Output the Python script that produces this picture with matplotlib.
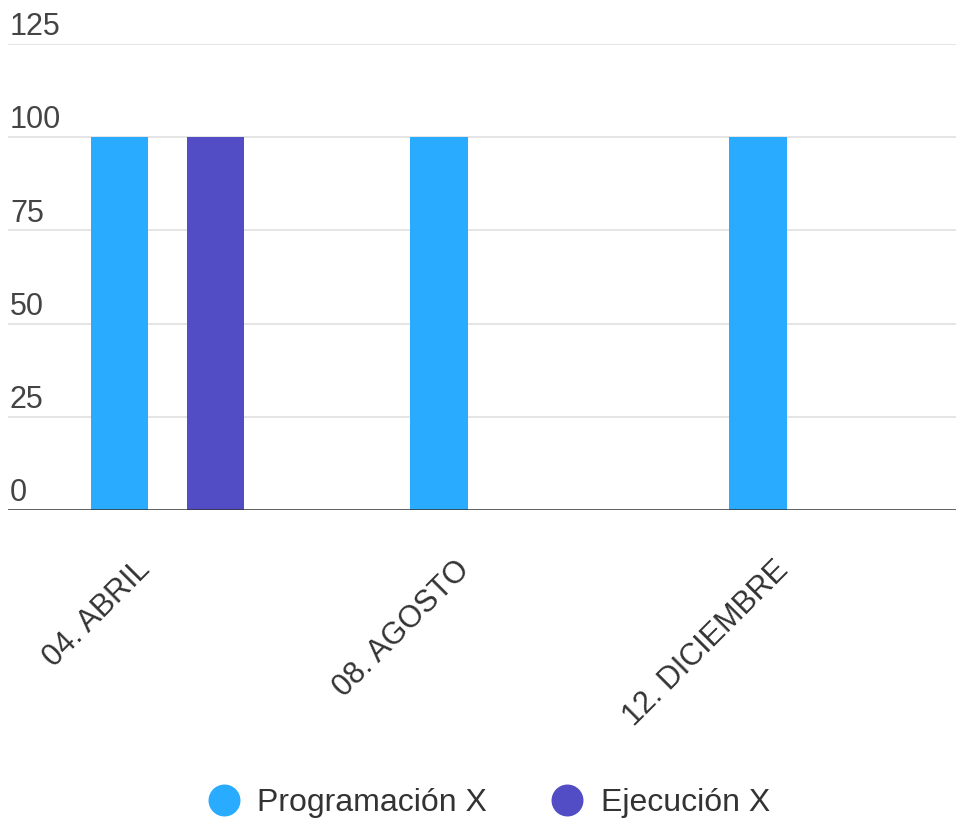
import matplotlib.pyplot as plt
from matplotlib.lines import Line2D
import matplotlib.transforms as mtransforms
import numpy as np

plt.rcParams['font.family'] = ['Liberation Sans', 'DejaVu Sans']

meses = ["04. ABRIL", "08. AGOSTO", "12. DICIEMBRE"]
programacion = [100, 100, 100]
ejecucion = [100, 0, 0]
yticks = [0, 25, 50, 75, 100, 125]

c_prog = "#29abff"
c_ejec = "#524dc5"

fig = plt.figure(figsize=(9.56, 8.26), dpi=100)
ax = fig.add_axes([8 / 956, 1 - 510 / 826, 948 / 956, (510 - 44) / 826])

x = np.arange(len(meses))
w = 0.18
ax.bar(x - 0.15, programacion, w, color=c_prog, zorder=3)
ax.bar(x + 0.15, ejecucion, w, color=c_ejec, zorder=3)

ax.set_xlim(-0.5, 2.47)
ax.set_ylim(0, 125)

for t in yticks:
    if t > 0:
        ax.axhline(t, color="#e3e3e3", lw=1.3, zorder=1)
    ax.text(0.002, t + 0.5, str(t), transform=ax.get_yaxis_transform(),
            ha="left", va="bottom", fontsize=22, color="#444444")
ax.axhline(0, color="#333333", lw=1.8, zorder=4)

ax.set_yticks([])
ax.set_xticks(x)
ax.set_xticklabels(meses, rotation=45, ha="right", va="center",
                   rotation_mode="anchor", fontsize=22, color="#333333")
ax.tick_params(axis="x", length=0, pad=40)
off = mtransforms.ScaledTranslation(-22 / 100, 0, fig.dpi_scale_trans)
for lab in ax.get_xticklabels():
    lab.set_transform(lab.get_transform() + off)
for s in ax.spines.values():
    s.set_visible(False)

handles = [Line2D([], [], marker="o", ls="", color=c_prog, markersize=22),
           Line2D([], [], marker="o", ls="", color=c_ejec, markersize=22)]
fig.legend(handles, ["Programación X", "Ejecución X"], loc="center",
           bbox_to_anchor=(0.503, 1 - 803 / 826), ncol=2, frameon=False,
           fontsize=23, handletextpad=0.05, columnspacing=1.5,
           labelcolor="#333333")

fig.savefig("out.png", dpi=100)
